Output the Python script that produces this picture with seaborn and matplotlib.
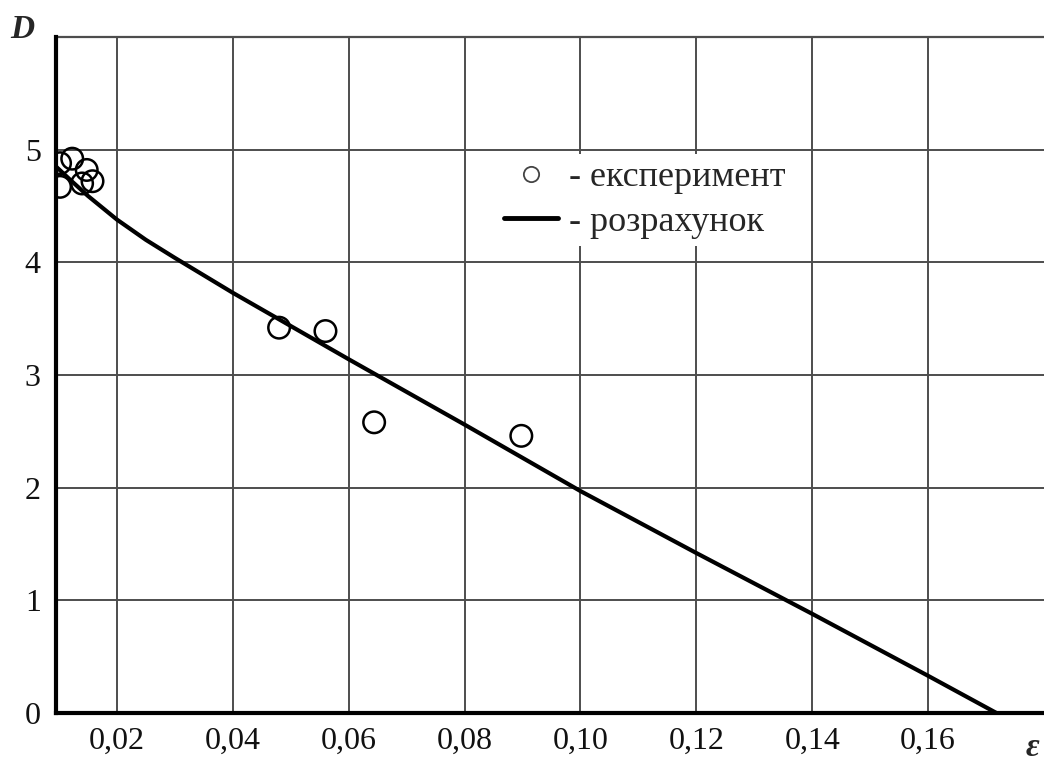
import matplotlib.pyplot as plt
from matplotlib.lines import Line2D
import seaborn as sns

# experimental points (epsilon, D)
eps_exp = [0.0102, 0.0123, 0.0148, 0.0158, 0.0102, 0.0140, 0.0480, 0.0560, 0.0644, 0.0898]
d_exp = [4.88, 4.92, 4.82, 4.72, 4.67, 4.70, 3.42, 3.39, 2.58, 2.46]

# calculated curve
eps_calc = [0.0095, 0.012, 0.015, 0.02, 0.025, 0.03, 0.04, 0.06, 0.08, 0.10, 0.12, 0.14, 0.16, 0.1718]
d_calc = [4.85, 4.73, 4.59, 4.38, 4.20, 4.04, 3.73, 3.14, 2.56, 1.97, 1.42, 0.88, 0.33, 0.0]

x_ticks = [0.02, 0.04, 0.06, 0.08, 0.10, 0.12, 0.14, 0.16]
x_labels = ['0,02', '0,04', '0,06', '0,08', '0,10', '0,12', '0,14', '0,16']
y_ticks = [0, 1, 2, 3, 4, 5]
legend_labels = ['- експеримент', '- розрахунок']

sns.set_theme(style='white')
plt.rcParams['font.family'] = ['Liberation Serif', 'DejaVu Serif']

fig = plt.figure(figsize=(10.44, 7.62), dpi=100)
ax = fig.add_axes([56 / 1044, 49 / 762, 988 / 1044, 676 / 762])

sns.lineplot(x=eps_calc, y=d_calc, ax=ax, color='black', linewidth=3,
             sort=False, estimator=None)
sns.scatterplot(x=eps_exp, y=d_exp, ax=ax, marker='o', s=240,
                facecolor='none', edgecolor='black', linewidth=1.8, zorder=3)

ax.set_xlim(0.0095, 0.18)
ax.set_ylim(0, 6)
ax.set_xticks(x_ticks)
ax.set_xticklabels(x_labels)
ax.set_yticks(y_ticks)
ax.tick_params(length=0, labelsize=23, colors='#111111')
ax.tick_params(axis='x', pad=10)
ax.tick_params(axis='y', pad=11)
ax.grid(True, color='#4d4d4d', linewidth=1.4)

for side in ['left', 'bottom']:
    ax.spines[side].set_color('black')
    ax.spines[side].set_linewidth(3)
    ax.spines[side].set_zorder(4)
ax.spines['top'].set_color('#4d4d4d')
ax.spines['top'].set_linewidth(1.6)
ax.spines['right'].set_visible(False)

handles = [
    Line2D([], [], linestyle='none', marker='o', markersize=11,
           markerfacecolor='none', markeredgecolor='#444444', markeredgewidth=1.3),
    Line2D([], [], color='black', linewidth=3.5),
]
leg = ax.legend(handles, legend_labels, loc='upper left',
                bbox_to_anchor=(0.446, 0.827), fontsize=26, frameon=True,
                facecolor='white', edgecolor='none', framealpha=1,
                handlelength=1.5, handletextpad=0.3, labelspacing=0.3,
                borderpad=0.2, borderaxespad=0)

fig.text(22 / 1044, 1 - 30 / 762, 'D', ha='center', va='center',
         fontsize=24, fontweight='bold', fontstyle='italic')
fig.text(1032 / 1044, 1 - 747 / 762, 'ε', ha='center', va='center',
         fontsize=24, fontweight='bold', fontstyle='italic')

fig.savefig('out.png', dpi=100)
